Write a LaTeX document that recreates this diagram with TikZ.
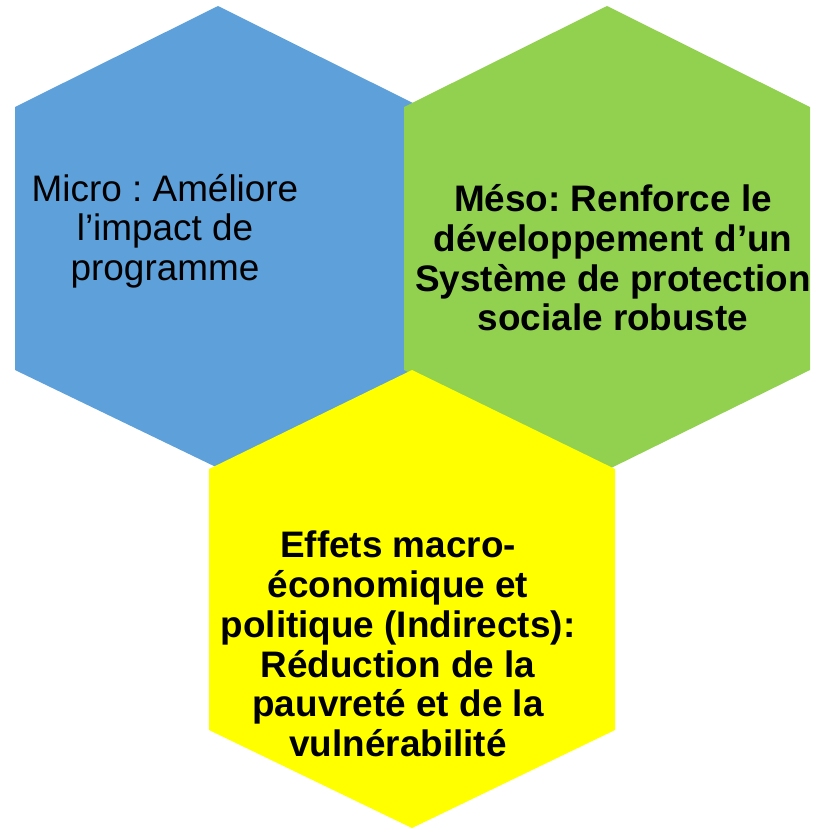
\documentclass[tikz,border=0pt]{standalone}
\usepackage{fontspec}
\setmainfont{Liberation Sans}
\usepackage{tikz}
\frenchspacing

\definecolor{bleu}{HTML}{5DA0DA}
\definecolor{vert}{HTML}{92D050}
\definecolor{jaune}{HTML}{FFFF00}

\begin{document}
\begin{tikzpicture}[x=0.02cm, y=-0.02cm, every node/.style={align=center, text=black, font=\fontsize{21}{22.6}\selectfont}]
	\useasboundingbox (0,0) rectangle (816,829);
	\coordinate (Micro) at (218,237);
	\coordinate (Meso) at (607,238);
	\coordinate (Macro) at (412,599);
	
	\fill[bleu] (Micro) ++(0,-231) -- ++(203,101) -- ++(0,263) -- ++(-203,98) -- ++(-203,-98) -- ++(0,-263) -- cycle;
	\fill[vert] (Meso) ++(0,-232) -- ++(203,101) -- ++(0,263) -- ++(-203,100) -- ++(-203,-100) -- ++(0,-263) -- cycle;
	\fill[jaune] (Macro) ++(0,-229) -- ++(203,99) -- ++(0,261) -- ++(-203,98) -- ++(-203,-98) -- ++(0,-261) -- cycle;
	
	\node (Microtexte) at (165,231) {Micro : Améliore\\l’impact de\\programme};
	\node (Mesotexte) at (613,258) {\bfseries Méso: Renforce le\\\bfseries développement d’un\\\bfseries Système de protection\\\bfseries sociale robuste};
	\node (Macrotexte) at (398,644) {\bfseries Effets macro-\\\bfseries économique et\\\bfseries politique (Indirects):\\\bfseries Réduction de la\\\bfseries pauvreté et de la\\\bfseries vulnérabilité};
\end{tikzpicture}
\end{document}
